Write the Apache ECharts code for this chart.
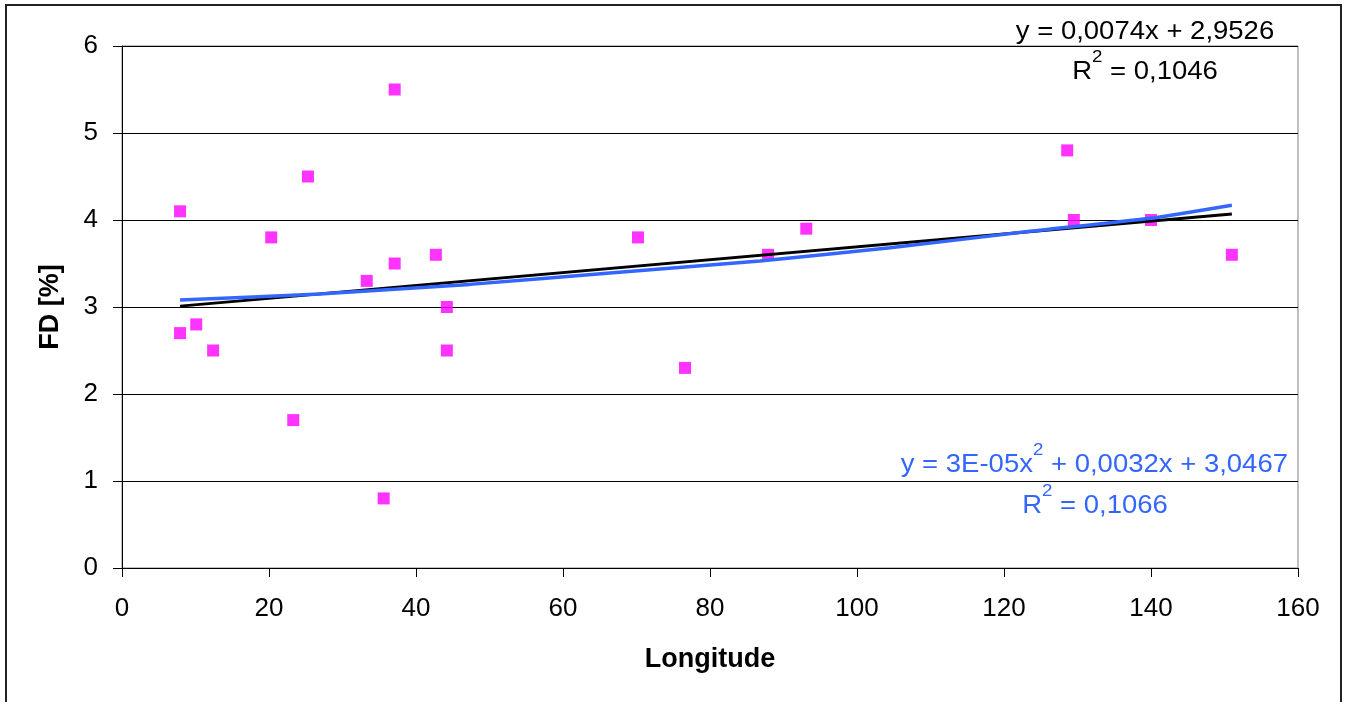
<!DOCTYPE html>
<html>
<head>
<meta charset="utf-8">
<script src="https://cdn.jsdelivr.net/npm/echarts@6/dist/echarts.min.js"></script>
<style>
html,body{margin:0;padding:0;background:#fff;}
#chart{width:1347px;height:702px;}
</style>
</head>
<body>
<div id="chart"></div>
<script>
// Data
const longitude = [7.9, 7.9, 10.1, 12.4, 20.3, 23.3, 25.3, 33.3, 35.6, 37.1, 37.1, 42.7, 44.2, 44.2, 70.2, 76.6, 87.9, 93.1, 128.6, 129.5, 140.0, 151.0];
const fd        = [4.1, 2.7, 2.8, 2.5, 3.8, 1.7, 4.5, 3.3, 0.8, 5.5, 3.5, 3.6, 3.0, 2.5, 3.8, 2.3, 3.6, 3.9, 4.8, 4.0, 4.0, 3.6];
// Trend lines as drawn in the picture
const linearFitX = [7.9, 151.0];
const linearFitY = [3.01, 4.07];
const polyFitX = [7.9, 26.9, 47.3, 66.4, 86.8, 104.5, 123.5, 139.9, 151.0];
const polyFitY = [3.08, 3.15, 3.26, 3.39, 3.53, 3.68, 3.87, 4.02, 4.17];
// Axis ticks
const xTicks = { min: 0, max: 160, interval: 20 };
const yTicks = { min: 0, max: 6, interval: 1 };
const xName = 'Longitude';
const yName = 'FD [%]';
const linearEq = ['{b|y = 0,0074x + 2,9526}', '{b|R}{sup|2}{b| = 0,1046}'];
const polyEq = ['{b|y = 3E-05x}{sup|2}{b| + 0,0032x + 3,0467}', '{b|R}{sup|2}{b| = 0,1066}'];

const FONT = '"Liberation Sans", Arial, sans-serif';
const BLUE = '#3366FF';
const zip = (a, b) => a.map((v, i) => [v, b[i]]);

const chart = echarts.init(document.getElementById('chart'), null, { renderer: 'canvas' });

const eqRich = (color) => ({
  b: { fontSize: 25, fontFamily: FONT, color: color, lineHeight: 36, verticalAlign: 'bottom' },
  sup: { fontSize: 17, fontFamily: FONT, color: color, lineHeight: 17, verticalAlign: 'top' }
});
const SX = 1.1;

chart.setOption({
  animation: false,
  backgroundColor: '#fff',
  grid: {
    left: 122, right: 49, top: 46, bottom: 134,
    show: true, borderColor: '#808080', borderWidth: 1, backgroundColor: 'transparent'
  },
  xAxis: {
    type: 'value', min: xTicks.min, max: xTicks.max, interval: xTicks.interval,
    name: xName, nameLocation: 'middle', nameGap: 78,
    nameTextStyle: { fontFamily: FONT, fontSize: 27, fontWeight: 'bold', color: '#000' },
    axisLine: { show: true, onZero: false, lineStyle: { color: '#000', width: 1 } },
    axisTick: { show: true, inside: false, length: 9, lineStyle: { color: '#000' } },
    axisLabel: { fontFamily: FONT, fontSize: 26, color: '#000', margin: 28 },
    splitLine: { show: false }
  },
  yAxis: {
    type: 'value', min: yTicks.min, max: yTicks.max, interval: yTicks.interval,
    name: yName, nameLocation: 'middle', nameGap: 58, nameRotate: 90,
    nameTextStyle: { fontFamily: FONT, fontSize: 27, fontWeight: 'bold', color: '#000' },
    axisLine: { show: true, onZero: false, lineStyle: { color: '#000', width: 1 } },
    axisTick: { show: true, inside: false, length: 9, lineStyle: { color: '#000' } },
    axisLabel: { fontFamily: FONT, fontSize: 26, color: '#000', margin: 24 },
    splitLine: { show: true, lineStyle: { color: '#000', width: 1 } }
  },
  series: [
    {
      type: 'scatter', name: 'FD',
      data: zip(longitude, fd),
      symbol: 'rect', symbolSize: 12,
      itemStyle: { color: '#FF00FF' }, z: 2
    },
    {
      type: 'line', name: 'Linear',
      data: zip(linearFitX, linearFitY),
      showSymbol: false, symbol: 'none',
      lineStyle: { color: '#000', width: 3 }, z: 3
    },
    {
      type: 'line', name: 'Poly',
      data: zip(polyFitX, polyFitY),
      smooth: 0.2, showSymbol: false, symbol: 'none',
      lineStyle: { color: BLUE, width: 3.5 }, z: 4
    }
  ],
  graphic: [
    {
      type: 'rect', silent: true,
      shape: { x: 6, y: 5, width: 1335, height: 720 },
      style: { fill: 'none', stroke: '#222', lineWidth: 2 }
    },
    {
      type: 'text', x: 1145, y: 27, scaleX: SX,
      style: { text: linearEq[0], font: '25px ' + FONT, fill: '#000', align: 'center', verticalAlign: 'middle', rich: eqRich('#000') }
    },
    {
      type: 'text', x: 1145, y: 67, scaleX: SX,
      style: { text: linearEq[1], font: '25px ' + FONT, fill: '#000', align: 'center', verticalAlign: 'middle', rich: eqRich('#000') }
    },
    {
      type: 'text', x: 1288, y: 460, scaleX: SX,
      style: { text: polyEq[0], font: '25px ' + FONT, fill: BLUE, align: 'right', verticalAlign: 'middle', rich: eqRich(BLUE) }
    },
    {
      type: 'text', x: 1095, y: 501, scaleX: SX,
      style: { text: polyEq[1], font: '25px ' + FONT, fill: BLUE, align: 'center', verticalAlign: 'middle', rich: eqRich(BLUE) }
    }
  ]
});
</script>
</body>
</html>
